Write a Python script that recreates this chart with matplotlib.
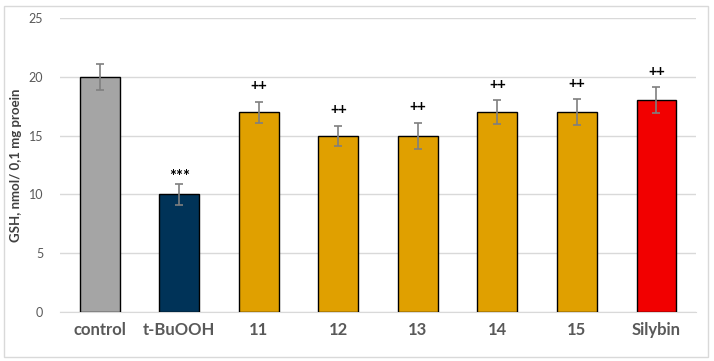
import matplotlib.pyplot as plt
from matplotlib.patches import Rectangle

# Data
groups = ['control', 't-BuOOH', '11', '12', '13', '14', '15', 'Silybin']
gsh = [20, 10, 17, 15, 15, 17, 17, 18]
err = [1.1, 0.9, 0.9, 0.85, 1.1, 1.0, 1.1, 1.1]
marks = ['', '***', '++', '++', '++', '++', '++', '++']
colors = ['#A5A5A5', '#003358', '#E0A000', '#E0A000', '#E0A000', '#E0A000', '#E0A000', '#F20000']

plt.rcParams['font.family'] = ['Lato', 'DejaVu Sans']

fig = plt.figure(figsize=(7.14, 3.61), dpi=100)
ax = fig.add_axes([0.084, 0.136, 0.891, 0.814])

# chart border
fig.patches.append(Rectangle((0.005, 0.012), 0.987, 0.972, transform=fig.transFigure,
                             fill=False, edgecolor='#D9D9D9', linewidth=1))

x = range(len(groups))
ax.bar(x, gsh, width=0.5, color=colors, edgecolor='black', linewidth=1, zorder=3)
ax.errorbar(x, gsh, yerr=err, fmt='none', ecolor='#7F7F7F', elinewidth=1.2,
            capsize=3, capthick=1.2, zorder=4)

for i, m in enumerate(marks):
    if not m:
        continue
    if m == '***':
        ax.text(i, gsh[i] + err[i] + 0.6, m, ha='center', va='center',
                fontsize=12, fontweight='bold', color='black')
    else:
        ax.text(i, gsh[i] + err[i] + 1.3, m, ha='center', va='center',
                fontsize=10.5, fontweight='bold', color='black')

ax.set_xlim(-0.5, len(groups) - 0.5)
ax.set_ylim(0, 25)
ax.set_yticks([0, 5, 10, 15, 20, 25])
ax.yaxis.grid(True, color='#D9D9D9', linewidth=1, zorder=0)
ax.set_axisbelow(True)
for s in ['top', 'right', 'left']:
    ax.spines[s].set_visible(False)
ax.spines['bottom'].set_color('#D9D9D9')
ax.tick_params(axis='both', length=0)
ax.tick_params(axis='y', labelsize=9, labelcolor='#595959', pad=12)
ax.set_xticks(list(x))
ax.set_xticklabels(groups, fontsize=12, fontweight='bold', color='#595959')
ax.tick_params(axis='x', pad=7)
ax.set_ylabel('GSH, nmol/ 0,1 mg proein', fontsize=9.5, fontweight='bold',
              color='#404040', labelpad=5)

fig.savefig('out.png', dpi=100)
